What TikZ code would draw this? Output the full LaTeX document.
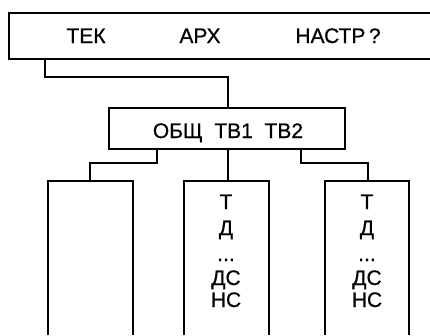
\documentclass[tikz,border=0pt]{standalone}
\usepackage{fontspec}
\setmainfont{Liberation Sans}[FakeBold=0.6,AutoFakeBold=0.6]
\begin{document}
\begin{tikzpicture}[x=1pt,y=-1pt,
  ln/.style={line width=1.5pt, line join=miter},
  lbl/.style={inner sep=0pt, font=\fontsize{21}{24}\selectfont\bfseries, anchor=base}]
\useasboundingbox (0,0) rectangle (430,335);
% top box (open at right)
\draw[ln] (430,13) -- (9,13) -- (9,59) -- (430,59);
\node[lbl] (tek) at (86,43) {ТЕК};
\node[lbl] (arh) at (200,43) {АРХ};
\node[lbl] (nastr) at (338,43) {НАСТР\,?};
% middle box
\draw[ln] (109,108) rectangle (345,149);
\node[lbl] (obsh) at (228,138) {ОБЩ\ \ ТВ1\ \ ТВ2};
% bottom boxes (open at bottom)
\draw[ln] (48,335) -- (48,181) -- (133,181) -- (133,335);
\draw[ln] (184,335) -- (184,181) -- (269,181) -- (269,335);
\draw[ln] (325,335) -- (325,181) -- (409,181) -- (409,335);
% connectors
\coordinate (c0) at (45,59);
\coordinate (c1) at (228,108);
\draw[ln] (c0) -- (45,77) -- (228,77) -- (c1);
\coordinate (l0) at (157,149);
\coordinate (l1) at (90,181);
\draw[ln] (l0) -- (157,163) -- (90,163) -- (l1);
\coordinate (m0) at (228,149);
\coordinate (m1) at (228,181);
\draw[ln] (m0) -- (m1);
\coordinate (r0) at (301,149);
\coordinate (r1) at (368,181);
\draw[ln] (r0) -- (301,163) -- (368,163) -- (r1);
% column texts
\foreach \cx/\nm in {226/a, 367/b}{
  \node[lbl] (t\nm) at (\cx,209) {Т};
  \node[lbl] (d\nm) at (\cx,235) {Д};
  \node[lbl] (e\nm) at (\cx,261) {...};
  \node[lbl] (ds\nm) at (\cx,285) {ДС};
  \node[lbl] (ns\nm) at (\cx,307) {НС};
}
\end{tikzpicture}
\end{document}
